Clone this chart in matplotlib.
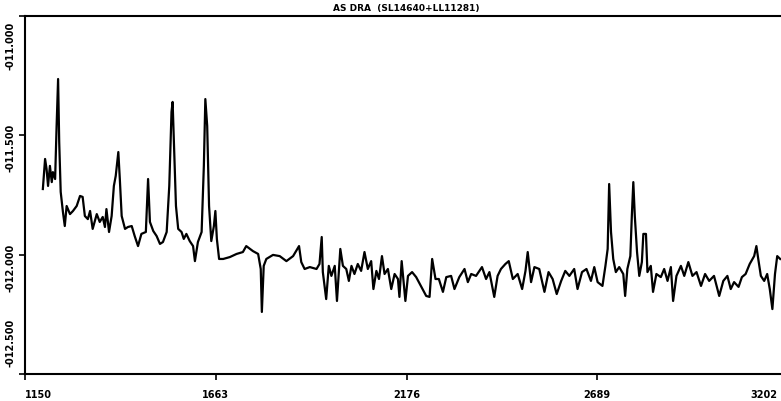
import numpy as np
import matplotlib.pyplot as plt
import matplotlib.transforms as mtransforms

# Data (wavelength, log flux)
wavelength = [1198, 1204, 1208, 1212, 1217, 1222, 1225, 1231, 1235, 1239, 1242, 1246,
              1252, 1257, 1262, 1271, 1279, 1289, 1298, 1305, 1311, 1319, 1325, 1332,
              1343, 1351, 1359, 1365, 1369, 1376, 1383, 1389, 1394, 1401, 1405, 1410,
              1419, 1427, 1437, 1445, 1454, 1463, 1475, 1481, 1486, 1495, 1504, 1513,
              1521, 1531, 1538, 1544, 1547, 1550, 1556, 1562, 1571, 1577, 1584, 1593,
              1602, 1607, 1615, 1625, 1631, 1635, 1640, 1645, 1651, 1658, 1662, 1666,
              1672, 1683, 1701, 1719, 1736, 1745, 1763, 1777, 1784, 1787, 1792, 1799,
              1817, 1835, 1853, 1871, 1887, 1893, 1902, 1916, 1934, 1942, 1948, 1951,
              1960, 1967, 1974, 1983, 1989, 1998, 2005, 2014, 2021, 2028, 2036, 2045,
              2054, 2063, 2072, 2081, 2087, 2095, 2102, 2110, 2117, 2126, 2135, 2144,
              2153, 2157, 2163, 2173, 2180, 2191, 2202, 2216, 2229, 2238, 2245, 2254,
              2263, 2274, 2283, 2296, 2305, 2318, 2332, 2341, 2350, 2363, 2379, 2390,
              2399, 2412, 2421, 2430, 2442, 2451, 2462, 2475, 2487, 2496, 2502, 2511,
              2520, 2533, 2547, 2558, 2569, 2580, 2592, 2603, 2614, 2627, 2636, 2648,
              2660, 2672, 2681, 2690, 2703, 2711, 2717, 2721, 2726, 2732, 2739, 2748,
              2759, 2764, 2770, 2778, 2782, 2786, 2790, 2796, 2802, 2809, 2813, 2820,
              2824, 2833, 2839, 2848, 2860, 2869, 2878, 2887, 2893, 2902, 2914, 2923,
              2934, 2945, 2956, 2968, 2979, 2990, 3003, 3017, 3028, 3039, 3048, 3057,
              3069, 3078, 3088, 3099, 3111, 3117, 3122, 3129, 3138, 3146, 3153, 3160,
              3167, 3173, 3181]
log_flux = [-11.725, -11.599, -11.641, -11.712, -11.628, -11.696, -11.654, -11.683, -11.461, -11.264, -11.528, -11.737,
            -11.821, -11.880, -11.796, -11.830, -11.817, -11.796, -11.754, -11.758, -11.838, -11.851, -11.817, -11.892,
            -11.830, -11.863, -11.842, -11.884, -11.809, -11.905, -11.838, -11.712, -11.670, -11.570, -11.683, -11.838,
            -11.892, -11.884, -11.880, -11.922, -11.964, -11.913, -11.905, -11.683, -11.863, -11.901, -11.922, -11.955,
            -11.947, -11.905, -11.712, -11.402, -11.360, -11.503, -11.796, -11.892, -11.905, -11.934, -11.913, -11.943,
            -11.964, -12.027, -11.947, -11.905, -11.628, -11.348, -11.461, -11.796, -11.943, -11.880, -11.817, -11.934,
            -12.018, -12.018, -12.010, -11.997, -11.989, -11.964, -11.985, -11.997, -12.060, -12.240, -12.047, -12.018,
            -12.001, -12.006, -12.027, -12.006, -11.964, -12.031, -12.060, -12.052, -12.060, -12.039, -11.926, -12.073,
            -12.186, -12.047, -12.089, -12.047, -12.194, -11.976, -12.047, -12.060, -12.110, -12.047, -12.081, -12.039,
            -12.068, -11.989, -12.060, -12.027, -12.144, -12.068, -12.102, -12.006, -12.081, -12.060, -12.144, -12.081,
            -12.102, -12.177, -12.027, -12.194, -12.089, -12.073, -12.094, -12.135, -12.173, -12.177, -12.018, -12.102,
            -12.102, -12.156, -12.094, -12.089, -12.144, -12.094, -12.060, -12.115, -12.081, -12.089, -12.052, -12.102,
            -12.073, -12.177, -12.089, -12.060, -12.039, -12.027, -12.102, -12.081, -12.144, -12.068, -11.989, -12.115,
            -12.052, -12.060, -12.156, -12.073, -12.102, -12.165, -12.110, -12.068, -12.089, -12.060, -12.144, -12.073,
            -12.060, -12.110, -12.052, -12.115, -12.131, -12.047, -11.976, -11.704, -11.905, -12.018, -12.073, -12.052,
            -12.081, -12.173, -12.060, -12.006, -11.838, -11.696, -11.838, -11.989, -12.089, -12.031, -11.913, -11.913,
            -12.073, -12.047, -12.156, -12.081, -12.094, -12.060, -12.110, -12.052, -12.194, -12.089, -12.047, -12.089,
            -12.031, -12.089, -12.073, -12.131, -12.081, -12.110, -12.089, -12.173, -12.110, -12.089, -12.144, -12.115,
            -12.135, -12.094, -12.081, -12.039, -12.006, -11.964, -12.018, -12.089, -12.110, -12.081, -12.144, -12.228,
            -12.081, -12.006, -12.018]

x_ticks = [1150, 1663, 2176, 2689, 3202]
x_labels = ['1150', '1663', '2176', '2689', '3202']
y_ticks = [-11.0, -11.5, -12.0, -12.5]
y_labels = ['-011.000', '-011.500', '-012.000', '-012.500']
title = 'AS DRA  (SL14640+LL11281)'

fig = plt.figure(figsize=(7.81, 4.02), dpi=100)
ax = fig.add_axes([25 / 781, 27 / 402, 763 / 781, 358 / 402])

ax.plot(wavelength, log_flux, color='black', lw=1.6)

ax.set_xlim(1150, 3202)
ax.set_ylim(-12.5, -11.0)

for side in ['left', 'bottom', 'top']:
    ax.spines[side].set_linewidth(1.5)
ax.spines['right'].set_visible(False)

ax.set_xticks(x_ticks)
ax.set_xticklabels(x_labels, fontsize=7, fontweight='bold')
ax.set_yticks(y_ticks)
ax.set_yticklabels(y_labels, fontsize=7, fontweight='bold', rotation=90)
ax.tick_params(axis='x', direction='out', length=4, width=1.2, pad=7)
ax.tick_params(axis='y', direction='out', length=4, width=1.2, pad=3)

# label alignment like the scan
xl = ax.get_xticklabels()
xl[0].set_ha('left')
xl[-1].set_ha('right')
xl[-1].set_transform(xl[-1].get_transform() + mtransforms.ScaledTranslation(-0.11, 0, fig.dpi_scale_trans))

yl = ax.get_yticklabels()
for lab, va, dy in zip(yl, ['top', 'center', 'center', 'bottom'], [-5, -12, -12, 8]):
    lab.set_va(va)
    lab.set_transform(lab.get_transform() + mtransforms.ScaledTranslation(0, dy / 100, fig.dpi_scale_trans))

ax.set_title(title, fontsize=6.5, fontweight='bold', pad=4)

fig.savefig('out.png', dpi=100)
